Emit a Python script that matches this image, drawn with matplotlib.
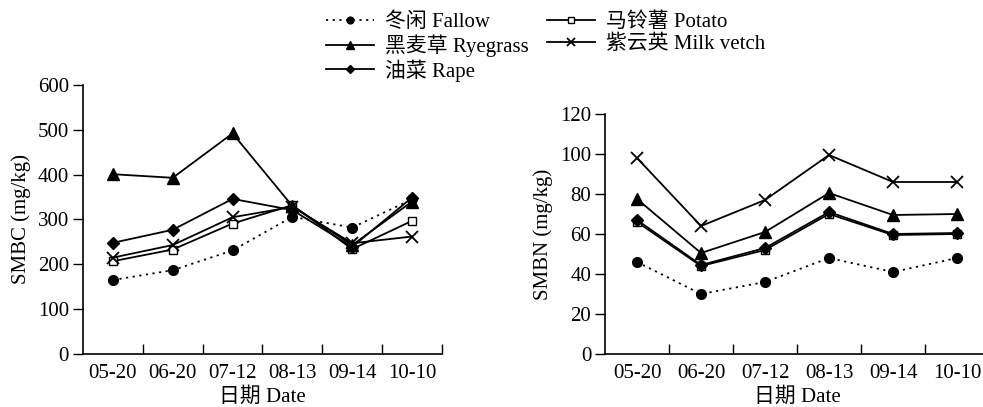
import numpy as np
import matplotlib
matplotlib.use('Agg')
import matplotlib.pyplot as plt

plt.rcParams['font.family'] = ['Liberation Serif', 'Noto Sans CJK SC']
plt.rcParams['font.size'] = 15

# categories and series
dates = ['05-20', '06-20', '07-12', '08-13', '09-14', '10-10']
names = ['冬闲 Fallow', '马铃薯 Potato', '黑麦草 Ryegrass', '紫云英 Milk vetch', '油菜 Rape']

smbc_fallow = [165, 187, 231, 306, 282, 345]
smbc_potato = [207, 233, 291, 332, 234, 297]
smbc_ryegrass = [401, 393, 492, 330, 243, 340]
smbc_vetch = [215, 243, 305, 328, 247, 262]
smbc_rape = [248, 277, 346, 321, 239, 349]

smbn_fallow = [46, 30, 36, 48, 41, 48]
smbn_potato = [66, 44, 52, 70, 59.5, 60]
smbn_ryegrass = [77.5, 50.5, 61, 80.5, 69.5, 70]
smbn_vetch = [98, 64, 77, 99.5, 86, 86]
smbn_rape = [67, 44.5, 53, 71, 60, 60.5]

styles = [
    dict(linestyle=(0, (1.2, 2.5)), marker='o', markerfacecolor='black', markersize=7),
    dict(linestyle='-', marker='s', markerfacecolor='white', markersize=6),
    dict(linestyle='-', marker='^', markerfacecolor='black', markersize=8),
    dict(linestyle='-', marker='x', markersize=9, markeredgewidth=1.3),
    dict(linestyle='-', marker='D', markerfacecolor='black', markersize=6),
]

fig = plt.figure(figsize=(9.83, 4.07), dpi=100)
ax1 = fig.add_axes([0.0844, 0.1302, 0.3652, 0.661])
ax2 = fig.add_axes([0.6155, 0.1302, 0.3906, 0.5897])

x = np.arange(1, len(dates) + 1)


def draw(ax, series, ymax, ystep, ylabel):
    lines = []
    for vals, st in zip(series, styles):
        ln, = ax.plot(x, vals, color='black', linewidth=1.3,
                      markeredgecolor='black', clip_on=False, **st)
        lines.append(ln)
    ax.set_xlim(0.5, len(dates) + 0.5)
    ax.set_ylim(0, ymax)
    ax.set_yticks(np.arange(0, ymax + 1, ystep))
    ax.set_xticks(np.arange(1.5, len(dates) + 1, 1))
    ax.set_xticklabels([])
    ax.set_xticks(x, minor=True)
    ax.set_xticklabels(dates, minor=True)
    ax.tick_params(axis='x', which='major', direction='in', length=7, width=1)
    ax.tick_params(axis='x', which='minor', length=0, pad=7)
    ax.tick_params(axis='y', direction='out', length=7, width=1, pad=3)
    ax.spines['top'].set_visible(False)
    ax.spines['right'].set_visible(False)
    for s in ('left', 'bottom'):
        ax.spines[s].set_linewidth(1.2)
    ax.set_xlabel('日期 Date', labelpad=3)
    ax.set_ylabel(ylabel, labelpad=5)
    return lines


lines = draw(ax1, [smbc_fallow, smbc_potato, smbc_ryegrass, smbc_vetch, smbc_rape],
             600, 100, 'SMBC (mg/kg)')
draw(ax2, [smbn_fallow, smbn_potato, smbn_ryegrass, smbn_vetch, smbn_rape],
     120, 20, 'SMBN (mg/kg)')

order = [0, 2, 4, 1, 3]
fig.legend([lines[i] for i in order], [names[i] for i in order], ncol=2,
           loc='upper left', bbox_to_anchor=(0.313, 1.015), frameon=False,
           handlelength=2.3, handletextpad=0.5, columnspacing=0.9,
           labelspacing=0.1, markerscale=0.7, fontsize=15)

fig.savefig('out.png', dpi=100)
